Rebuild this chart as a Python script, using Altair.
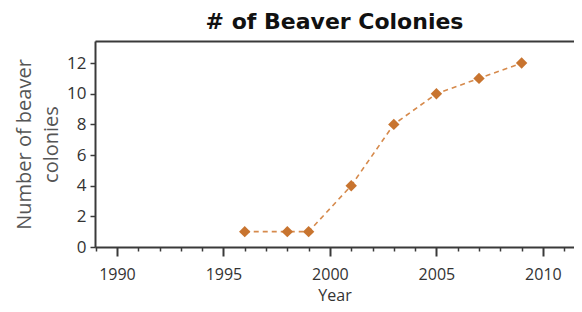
import altair as alt
import pandas as pd

years = [1996, 1998, 1999, 2001, 2003, 2005, 2007, 2009]
colonies = [1, 1, 1, 4, 8, 10, 11, 12]

year_ticks = [1989, 1990, 1991, 1992, 1993, 1994, 1995, 1996, 1997, 1998, 1999, 2000,
              2001, 2002, 2003, 2004, 2005, 2006, 2007, 2008, 2009, 2010, 2011]
y_ticks = [0, 2, 4, 6, 8, 10, 12]

df = pd.DataFrame({"year": years, "colonies": colonies})

axis_color = "#3a3a3a"
text_font = "Open Sans"

x_scale = alt.Scale(domain=[1988.97, 2011.46], nice=False, zero=False)
y_scale = alt.Scale(domain=[0, 13.44], nice=False)

y_axis = alt.Axis(
    values=y_ticks, grid=False, tickSize=5, tickWidth=1.5, tickColor=axis_color,
    domainColor=axis_color, domainWidth=2, labelFont=text_font, labelFontSize=17,
    labelColor="#333", labelPadding=4,
    title=["Number of beaver", "colonies"], titleFont=text_font, titleFontSize=20,
    titleFontWeight="normal", titleColor="#555", titleLineHeight=27, titlePadding=5,
)

x_axis = alt.Axis(
    orient="bottom", values=year_ticks, format="d", grid=False,
    labelExpr="datum.value % 5 === 0 ? datum.label : ''",
    tickSize={"condition": {"test": "datum.value % 5 === 0", "value": 9}, "value": 4},
    tickWidth={"condition": {"test": "datum.value % 5 === 0", "value": 2}, "value": 1.5},
    tickColor=axis_color, domainColor=axis_color, domainWidth=2,
    labelFont=text_font, labelFontSize=16, labelColor="#333", labelPadding=10,
    labelFlush=False, labelOverlap=False,
    title="Year", titleFont=text_font, titleFontSize=16, titleFontWeight="normal",
    titleColor="#333", titlePadding=5,
)

top_axis = alt.Axis(
    orient="top", labels=False, ticks=False, title=None, grid=False,
    domainColor=axis_color, domainWidth=2,
)

line = alt.Chart(df).mark_line(
    color="#D68A4C", strokeDash=[5, 4], strokeWidth=1.6
).encode(
    x=alt.X("year:Q", scale=x_scale, axis=x_axis),
    y=alt.Y("colonies:Q", scale=y_scale, axis=y_axis),
)

points = alt.Chart(df).mark_point(
    shape="diamond", filled=True, color="#C8742F", opacity=1, size=130
).encode(
    x=alt.X("year:Q", scale=x_scale, axis=top_axis),
    y=alt.Y("colonies:Q", scale=y_scale, axis=y_axis),
)

chart = alt.layer(line, points).resolve_axis(x="independent").properties(
    width=479,
    height=206,
    autosize=alt.AutoSizeParams(type="none"),
    padding={"left": 87, "top": 33, "right": 0, "bottom": 57},
    title=alt.Title(
        "# of Beaver Colonies", font="DejaVu Sans", fontSize=22, fontWeight="bold",
        color="#111", anchor="middle", offset=7, frame="group",
    ),
).configure_view(stroke="transparent", strokeWidth=0).configure(background="white")

chart.save("out.html", embed_options={"renderer": "svg", "actions": False})
